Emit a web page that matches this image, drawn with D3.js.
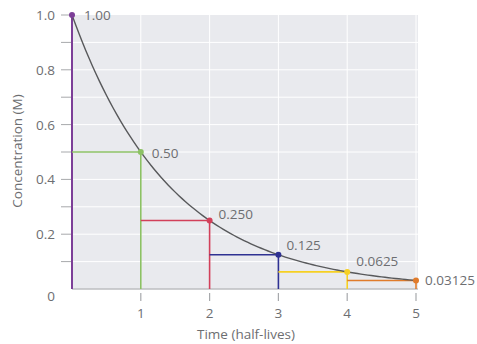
<!DOCTYPE html>
<html><head><meta charset="utf-8">
<script src="https://cdn.jsdelivr.net/npm/d3@7"></script>
<style>body{margin:0;background:#fff}svg{display:block}text{font-family:"Open Sans","Noto Sans",sans-serif;fill:#6d6e71}</style>
</head><body><svg id="c" width="477" height="344"></svg>
<script>
const halfLives = [0, 1, 2, 3, 4, 5];
const concentrations = [1.00, 0.50, 0.250, 0.125, 0.0625, 0.03125];
const pointLabels = ["1.00", "0.50", "0.250", "0.125", "0.0625", "0.03125"];
const stepColors = ["#7d3f98", "#8cc164", "#d2405a", "#2e3192", "#f6d023", "#e07b2b"];
const yTickLabels = ["0", "0.2", "0.4", "0.6", "0.8", "1.0"];
const xTickLabels = ["1", "2", "3", "4", "5"];

const svg = d3.select("#c");
const x = d3.scaleLinear().domain([0, 5]).range([72, 416]);
const y = d3.scaleLinear().domain([0, 1]).range([289, 15]);
const fs = 13.5;

svg.append("rect").attr("x", x(0)).attr("y", y(1)).attr("width", x(5) - x(0) + 2).attr("height", y(0) - y(1)).attr("fill", "#e9eaee");
const gridY = d3.range(1, 10).map(d => d / 10);
svg.selectAll(".gy").data(gridY).join("line").attr("x1", x(0)).attr("x2", x(5) + 2).attr("y1", d => y(d)).attr("y2", d => y(d)).attr("stroke", "#fff").attr("stroke-width", 1);
svg.selectAll(".gx").data(halfLives.slice(1)).join("line").attr("x1", d => x(d)).attr("x2", d => x(d)).attr("y1", y(1)).attr("y2", y(0)).attr("stroke", "#fff").attr("stroke-width", 1);

svg.append("line").attr("x1", x(0)).attr("x2", x(5) + 2).attr("y1", y(0)).attr("y2", y(0)).attr("stroke", "#bcbec0").attr("stroke-width", 1.5);

const yTicks = d3.range(1, 11).map(d => d / 10);
svg.selectAll(".yt").data(yTicks).join("line").attr("x1", 61).attr("x2", 71).attr("y1", d => y(d)).attr("y2", d => y(d)).attr("stroke", "#a7a9ac").attr("stroke-width", 1);
svg.selectAll(".yl").data(yTickLabels).join("text").attr("x", 55).attr("y", (d, i) => y(i * 0.2) + (i === 0 ? 12 : 5)).attr("text-anchor", "end").attr("font-size", fs).text(d => d);

svg.selectAll(".xt").data(xTickLabels).join("line").attr("x1", (d, i) => x(i + 1)).attr("x2", (d, i) => x(i + 1)).attr("y1", 293).attr("y2", 301).attr("stroke", "#a7a9ac").attr("stroke-width", 1.2);
svg.selectAll(".xl").data(xTickLabels).join("text").attr("x", (d, i) => x(i + 1)).attr("y", 318).attr("text-anchor", "middle").attr("font-size", fs).text(d => d);

svg.append("text").attr("x", 246).attr("y", 339).attr("text-anchor", "middle").attr("font-size", fs).text("Time (half-lives)");
svg.append("text").attr("transform", `translate(22,151) rotate(-90)`).attr("text-anchor", "middle").attr("font-size", fs).text("Concentration (M)");

halfLives.forEach((t, i) => {
  const c = concentrations[i];
  if (i > 0) {
    svg.append("line").attr("x1", x(halfLives[i - 1])).attr("x2", x(t)).attr("y1", y(c)).attr("y2", y(c)).attr("stroke", stepColors[i]).attr("stroke-width", 1.6);
  }
  svg.append("line").attr("x1", x(t)).attr("x2", x(t)).attr("y1", y(c)).attr("y2", y(0)).attr("stroke", stepColors[i]).attr("stroke-width", i === 0 ? 2 : 1.6);
});

const curve = d3.range(0, 5.001, 0.05).map(t => [t, Math.pow(0.5, t)]);
svg.append("path").datum(curve).attr("fill", "none").attr("stroke", "#58595b").attr("stroke-width", 1.4)
  .attr("d", d3.line().x(d => x(d[0])).y(d => y(d[1])));

svg.selectAll(".pt").data(halfLives).join("circle").attr("cx", d => x(d)).attr("cy", (d, i) => y(concentrations[i])).attr("r", 3).attr("fill", (d, i) => stepColors[i]);

const labelOffsets = [[12, 5], [11, 5.5], [9, -1.5], [8, -4.5], [9, -5.5], [9, 5]];
svg.selectAll(".pl").data(pointLabels).join("text")
  .attr("x", (d, i) => x(halfLives[i]) + labelOffsets[i][0])
  .attr("y", (d, i) => y(concentrations[i]) + labelOffsets[i][1])
  .attr("font-size", fs).text(d => d);
</script></body></html>
